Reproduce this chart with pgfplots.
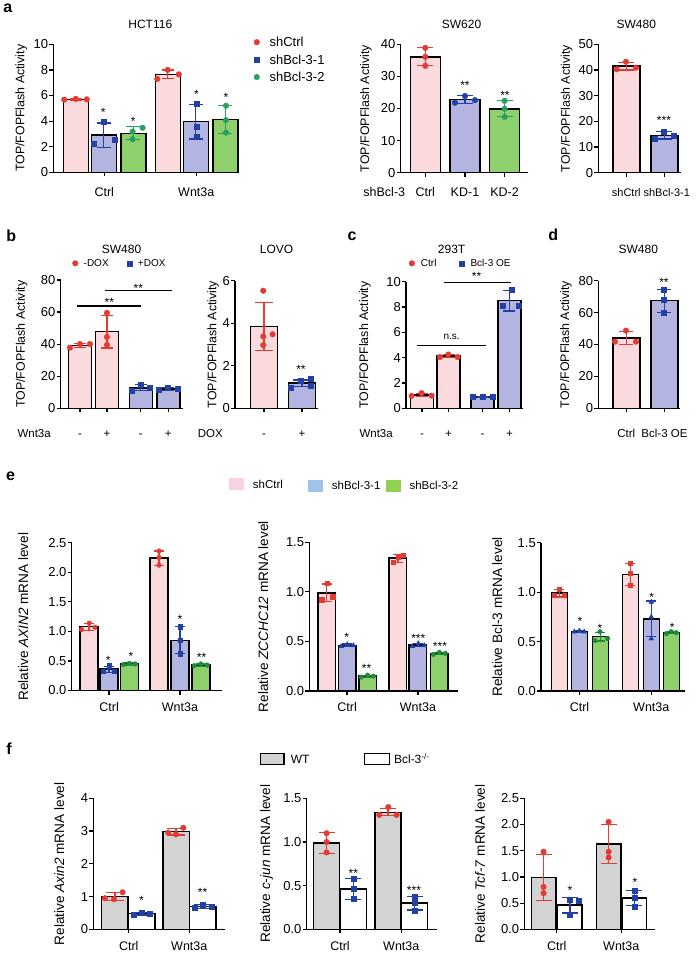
\documentclass[border=0pt]{standalone}
\usepackage{fontspec}
\setmainfont{Liberation Sans}
\usepackage{pgfplots}
\pgfplotsset{compat=1.18}
\newcommand\FS[1]{\fontsize{#1}{#1}\selectfont}
\definecolor{cpink}{RGB}{250,218,221}
\definecolor{clav}{RGB}{180,180,225}
\definecolor{cgreen}{RGB}{142,208,108}
\definecolor{cgrey}{RGB}{211,211,211}
\definecolor{cred}{RGB}{228,58,50}
\definecolor{cblue}{RGB}{35,65,165}
\definecolor{cgreenpt}{RGB}{40,160,100}
\definecolor{cgreendk}{RGB}{30,140,60}
\definecolor{lpink}{RGB}{248,210,226}
\definecolor{lblue}{RGB}{160,196,230}
\definecolor{lgreen}{RGB}{146,208,80}
\pgfplotsset{
 gp/.style={scale only axis, anchor=south west, axis lines=left, axis line style={-, line width=1.2pt},
   enlargelimits=false, clip=false, ymin=0, tick align=outside, major tick length=4pt,
   tick style={black, line width=1.2pt},
   yticklabel style={font=\FS{13}, inner sep=1pt},
   xticklabel style={font=\FS{12.5}, anchor=base},
   ylabel style={font=\FS{12.4}, anchor=center},
   legend style={draw=none, fill=none, inner sep=0pt, nodes={inner sep=0pt, text depth=0pt}, cells={anchor=west}},
   legend image code/.code={\draw[#1] plot coordinates {(0pt,0pt)};},
 },
 bp/.style={ybar, bar shift=0pt, draw=black, line width=1.5pt, forget plot},
 ebar/.style 2 args={error bars/.cd, y dir=both, y explicit, error bar style={draw=#1, line width=1.2pt}, error mark options={draw=#1, line width=1.2pt, mark size=#2, rotate=90}},
 pc/.style 2 args={only marks, mark=*, mark size=#2, color=#1, forget plot},
 ps/.style 2 args={only marks, mark=square*, mark size=#2, color=#1, forget plot},
 pt/.style 2 args={only marks, mark=triangle*, mark size=#2, color=#1, forget plot},
}
\begin{document}
\begin{tikzpicture}
% ---------------- a1 HCT116
\begin{axis}[gp, at={(50pt,-172.3pt)}, width=185pt, height=128pt,
 xmin=50, xmax=235, ymax=10, ytick={0,2,4,6,8,10}, yticklabels={0,2,4,6,8,10},
 xtick={101,193}, xticklabels={Ctrl,Wnt3a}, xticklabel style={yshift=-20pt},
 ylabel={TOP/FOPFlash Activity}, ylabel style={at={(axis cs:18,5)}},
 legend style={at={(axis cs:250.5,10.55)}, anchor=north west, font=\FS{13}, row sep=8pt, /tikz/every odd column/.style={column sep=10pt}}]
\addplot[bp, bar width=25, fill=cpink, ebar={cred}{6pt}] coordinates {(72.5,5.7) +- (0,0.05) (164.5,7.65) +- (0,0.35)};
\addplot[bp, bar width=25, fill=clav, ebar={cblue}{7pt}] coordinates {(100.5,2.9) +- (0,0.95) (192.5,3.95) +- (0,1.35)};
\addplot[bp, bar width=25, fill=cgreen, ebar={cgreenpt}{7pt}] coordinates {(130,3.05) +- (0,0.5) (222,4.13) +- (0,1.07)};
\addplot[pc={cred}{2.8pt}] coordinates {(61,5.68) (72.5,5.74) (83.5,5.7) (154,7.3) (164.5,8.0) (175.5,7.65)};
\addplot[ps={cblue}{2.5pt}] coordinates {(90,2.2) (100.5,3.95) (111,2.58) (193.3,5.35) (193.3,3.6) (193.3,2.75)};
\addplot[pc={cgreenpt}{2.8pt}] coordinates {(129.3,2.58) (129.3,3.18) (139.3,3.48) (222.7,5.2) (222.7,4.08) (222.7,3.1)};
\addlegendimage{only marks, mark=*, mark size=2.8pt, cred}\addlegendentry{shCtrl}
\addlegendimage{only marks, mark=square*, mark size=2.5pt, cblue}\addlegendentry{shBcl-3-1}
\addlegendimage{only marks, mark=*, mark size=2.8pt, cgreenpt}\addlegendentry{shBcl-3-2}
\end{axis}
% ---------------- a2 SW620
\begin{axis}[gp, at={(397.3pt,-172.7pt)}, width=127.7pt, height=128.4pt,
 xmin=397.3, xmax=525, ymax=40, ytick={0,10,20,30,40}, yticklabels={0,10,20,30,40},
 xtick={422,461.7,501.3}, xticklabels={Ctrl,KD-1,KD-2}, xticklabel style={yshift=-19.3pt},
 ylabel={TOP/FOPFlash Activity}, ylabel style={at={(axis cs:362.7,20)}}]
\addplot[bp, bar width=30, fill=cpink, ebar={cred}{8pt}] coordinates {(422,36.1) +- (0,2.8)};
\addplot[bp, bar width=30, fill=clav, ebar={cblue}{8pt}] coordinates {(461.7,22.8) +- (0,1.2)};
\addplot[bp, bar width=30, fill=cgreen, ebar={cgreenpt}{8pt}] coordinates {(501.3,19.9) +- (0,2.5)};
\addplot[pc={cred}{2.8pt}] coordinates {(422,38.9) (422,36.1) (422,33.3)};
\addplot[pc={cblue}{2.8pt}] coordinates {(451.7,21.8) (461.7,23.9) (471.7,22.6)};
\addplot[pc={cgreenpt}{2.8pt}] coordinates {(501.3,22.4) (501.3,19.9) (501.3,17.4)};
\end{axis}
% ---------------- a3 SW480
\begin{axis}[gp, at={(595pt,-172.7pt)}, width=83pt, height=128.4pt,
 xmin=595, xmax=678, ymax=50, ytick={0,10,20,30,40,50}, yticklabels={0,10,20,30,40,50},
 xtick={623,661}, xticklabels={shCtrl\hspace{9pt},\hspace{5pt}shBcl-3-1}, xticklabel style={yshift=-19.3pt, font=\FS{11}},
 ylabel={TOP/FOPFlash Activity}, ylabel style={at={(axis cs:563.3,25)}}]
\addplot[bp, bar width=27, fill=cpink, ebar={cred}{8pt}] coordinates {(623,41.5) +- (0,1.5)};
\addplot[bp, bar width=27, fill=clav, ebar={cblue}{8pt}] coordinates {(661,14.5) +- (0,1.4)};
\addplot[pc={cred}{2.8pt}] coordinates {(613.3,40.3) (622.7,43.2) (632.7,40.9)};
\addplot[ps={cblue}{2.5pt}] coordinates {(651.7,13.4) (660.7,15.8) (670.7,14.3)};
\end{axis}
% ---------------- b1 SW480
\begin{axis}[gp, at={(57.3pt,-408.3pt)}, width=122.7pt, height=128.3pt,
 xmin=57.3, xmax=180, ymax=80, ytick={0,20,40,60,80}, yticklabels={0,20,40,60,80},
 xtick={76.7,103.7,137.5,165}, xticklabels={-,+,-,+}, xticklabel style={yshift=-24.7pt, font=\FS{11.5}},
 ylabel={TOP/FOPFlash Activity}, ylabel style={at={(axis cs:18.3,40)}},
 legend columns=2,
 legend style={at={(axis cs:69,90.4)}, anchor=west, font=\FS{10}, /tikz/every odd column/.style={column sep=5.6pt}, /tikz/every even column/.style={column sep=18.7pt}}]
\addplot[bp, bar width=23, fill=cpink, ebar={cred}{6pt}] coordinates {(76.7,39.3) +- (0,1.3) (103.7,47.8) +- (0,10.2)};
\addplot[bp, bar width=23, fill=clav, ebar={cblue}{6pt}] coordinates {(137.5,12.8) +- (0,1.8) (165,12.0) +- (0,0.8)};
\addplot[pc={cred}{2.8pt}] coordinates {(66.7,37.8) (76.7,40.1) (86.7,40.1) (103.7,59.5) (103.7,44.5) (103.7,39.5)};
\addplot[ps={cblue}{2.5pt}] coordinates {(128.3,11.2) (137.3,14.6) (146.7,12.6) (155,11.5) (164,12.6) (174,12.0)};
\draw[line width=1.2pt] (axis cs:73.3,63.8) -- (axis cs:137.3,63.8);
\draw[line width=1.2pt] (axis cs:101.7,73.3) -- (axis cs:168.3,73.3);
\addlegendimage{only marks, mark=*, mark size=2.8pt, cred}\addlegendentry{-DOX}
\addlegendimage{only marks, mark=square*, mark size=2.5pt, cblue}\addlegendentry{+DOX}
\end{axis}
% ---------------- b2 LOVO
\begin{axis}[gp, at={(231.7pt,-408.3pt)}, width=83.3pt, height=127.6pt,
 xmin=231.7, xmax=315, ymax=6, ytick={0,2,4,6}, yticklabels={0,2,4,6},
 xtick={260.7,298.8}, xticklabels={-,+}, xticklabel style={yshift=-24.7pt, font=\FS{11.5}},
 ylabel={TOP/FOPFlash Activity}, ylabel style={at={(axis cs:210,3)}}]
\addplot[bp, bar width=27, fill=cpink, ebar={cred}{9pt}] coordinates {(260.7,3.84) +- (0,1.13)};
\addplot[bp, bar width=27, fill=clav, ebar={cblue}{9pt}] coordinates {(298.8,1.18) +- (0,0.15)};
\addplot[pc={cred}{2.8pt}] coordinates {(260,5.53) (260,3.38) (269.3,3.48) (260,2.97)};
\addplot[ps={cblue}{2.5pt}] coordinates {(287.3,0.99) (297.7,1.28) (307.3,1.41) (307.3,1.05)};
\end{axis}
% ---------------- c 293T
\begin{axis}[gp, at={(402.7pt,-408.3pt)}, width=117.3pt, height=126.6pt,
 xmin=402.7, xmax=520, ymax=10, ytick={0,2,4,6,8,10}, yticklabels={0,2,4,6,8,10},
 xtick={418.7,445.3,479.3,506.2}, xticklabels={-,+,-,+}, xticklabel style={yshift=-24.7pt, font=\FS{11.5}},
 ylabel={TOP/FOPFlash Activity}, ylabel style={at={(axis cs:361.7,5)}},
 legend columns=2,
 legend style={at={(axis cs:405.6,11.45)}, anchor=west, font=\FS{10}, /tikz/every odd column/.style={column sep=6.3pt}, /tikz/every even column/.style={column sep=22.7pt}}]
\addplot[bp, bar width=23, fill=cpink, ebar={cred}{6pt}] coordinates {(418.7,1.06) +- (0,0.1) (445.3,4.12) +- (0,0.12)};
\addplot[bp, bar width=23, fill=clav, ebar={cblue}{6pt}] coordinates {(479.3,0.9) +- (0,0.05) (506.2,8.5) +- (0,0.82)};
\addplot[pc={cred}{2.8pt}] coordinates {(408.3,0.98) (418.3,1.2) (428.3,1.0) (436.7,4.05) (445,4.25) (454.3,4.05)};
\addplot[ps={cblue}{2.5pt}] coordinates {(469.3,0.88) (479.3,0.93) (489.3,0.88) (508.3,9.34) (499.3,8.08) (515,8.08)};
\draw[line width=1.2pt] (axis cs:414,4.95) -- (axis cs:482.7,4.95);
\draw[line width=1.2pt] (axis cs:440.7,9.92) -- (axis cs:507.7,9.92);
\addlegendimage{only marks, mark=*, mark size=2.8pt, cred}\addlegendentry{Ctrl}
\addlegendimage{only marks, mark=square*, mark size=2.5pt, cblue}\addlegendentry{Bcl-3 OE}
\end{axis}
% ---------------- d SW480
\begin{axis}[gp, at={(595pt,-408.3pt)}, width=82pt, height=127.6pt,
 xmin=595, xmax=677, ymax=80, ytick={0,20,40,60,80}, yticklabels={0,20,40,60,80},
 xtick={623,661.2}, xticklabels={Ctrl,Bcl-3 OE}, xticklabel style={yshift=-24.7pt, font=\FS{11.5}},
 ylabel={TOP/FOPFlash Activity}, ylabel style={at={(axis cs:562.7,40)}}]
\addplot[bp, bar width=27, fill=cpink, ebar={cred}{7pt}] coordinates {(623,44.1) +- (0,4.3)};
\addplot[bp, bar width=27, fill=clav, ebar={cblue}{7pt}] coordinates {(661.2,67.5) +- (0,7.2)};
\addplot[pc={cred}{2.8pt}] coordinates {(611.7,41.8) (622.7,48.7) (632.7,41.8)};
\addplot[ps={cblue}{2.5pt}] coordinates {(660.7,74.6) (660.7,67.9) (660.7,60)};
\end{axis}
% ---------------- e1 AXIN2
\begin{axis}[gp, at={(68.3pt,-690.5pt)}, width=150pt, height=147.8pt,
 xmin=68.3, xmax=218.3, ymax=2.5, ytick={0,0.5,1,1.5,2,2.5}, yticklabels={0.0,0.5,1.0,1.5,2.0,2.5},
 xtick={105.8,176.7}, xticklabels={Ctrl,Wnt3a}, xticklabel style={yshift=-16.5pt},
 ylabel={Relative \textit{AXIN2} mRNA level}, ylabel style={at={(axis cs:20,1.25)}, font=\FS{13.6}},
 legend style={at={(axis cs:226,3.49)}, anchor=west, font=\FS{11.5}, /tikz/every odd column/.style={column sep=9pt}}]
\addplot[bp, bar width=18, fill=cpink, ebar={cred}{5pt}] coordinates {(85.8,1.08) +- (0,0.06) (155.8,2.24) +- (0,0.12)};
\addplot[bp, bar width=18, fill=clav, ebar={cblue}{5pt}] coordinates {(105.8,0.36) +- (0,0.05) (176.7,0.85) +- (0,0.23)};
\addplot[bp, bar width=18, fill=cgreen, ebar={cgreendk}{5pt}] coordinates {(126.2,0.45) +- (0,0.02) (197.5,0.43) +- (0,0.02)};
\addplot[pc={cred}{2.3pt}] coordinates {(78.3,1.03) (86,1.14) (91.7,1.07) (155.8,2.36) (155.8,2.25) (155.8,2.12)};
\addplot[ps={cblue}{2.2pt}] coordinates {(100,0.33) (105.8,0.42) (111,0.33) (176.7,1.08) (176.7,0.85) (176.7,0.62)};
\addplot[pc={cgreendk}{2.3pt}] coordinates {(120,0.44) (126,0.46) (132,0.45) (191,0.42) (197.5,0.45) (204,0.43)};
\addlegendimage{legend image code/.code={\fill[lpink] (0pt,-5.5pt) rectangle (14pt,5.5pt);}}\addlegendentry{shCtrl}
\end{axis}
% ---------------- e2 ZCCHC12
\begin{axis}[gp, at={(306pt,-691pt)}, width=149pt, height=148.7pt,
 xmin=306, xmax=455, ymax=1.5, ytick={0,0.5,1,1.5}, yticklabels={0.0,0.5,1.0,1.5},
 xtick={343.8,414.7}, xticklabels={Ctrl,Wnt3a}, xticklabel style={yshift=-16pt},
 ylabel={Relative \textit{ZCCHC12} mRNA level}, ylabel style={at={(axis cs:260,0.75)}, font=\FS{13.6}},
 legend style={at={(axis cs:305,2.07)}, anchor=west, font=\FS{11.5}, /tikz/every odd column/.style={column sep=9pt}}]
\addplot[bp, bar width=17.5, fill=cpink, ebar={cred}{5pt}] coordinates {(323.3,0.99) +- (0,0.09) (394.7,1.34) +- (0,0.04)};
\addplot[bp, bar width=17.5, fill=clav, ebar={cblue}{5pt}] coordinates {(343.8,0.46) +- (0,0.015) (414.7,0.466) +- (0,0.015)};
\addplot[bp, bar width=17.5, fill=cgreen, ebar={cgreendk}{5pt}] coordinates {(364.3,0.15) +- (0,0.01) (435.8,0.38) +- (0,0.01)};
\addplot[ps={cred}{2.2pt}] coordinates {(318.3,0.92) (324,1.09) (329.3,0.95) (390,1.30) (395,1.35) (400,1.37)};
\addplot[pt={cblue}{2.8pt}] coordinates {(338,0.45) (344,0.47) (350,0.46) (409,0.45) (415,0.48) (421,0.46)};
\addplot[pc={cgreendk}{2.3pt}] coordinates {(358,0.14) (364.3,0.16) (370,0.15) (430,0.37) (436,0.39) (442,0.38)};
\addlegendimage{legend image code/.code={\fill[lblue] (0pt,-5.5pt) rectangle (14pt,5.5pt);}}\addlegendentry{shBcl-3-1}
\end{axis}
% ---------------- e3 Bcl-3
\begin{axis}[gp, at={(537.7pt,-691pt)}, width=144.3pt, height=148.3pt,
 xmin=537.7, xmax=682, ymax=1.5, ytick={0,0.5,1,1.5}, yticklabels={0.0,0.5,1.0,1.5},
 xtick={576.2,648}, xticklabels={Ctrl,Wnt3a}, xticklabel style={yshift=-16pt},
 ylabel={Relative Bcl-3 mRNA level}, ylabel style={at={(axis cs:494,0.75)}, font=\FS{13.6}},
 legend style={at={(axis cs:382.7,2.077)}, anchor=west, font=\FS{11.5}, /tikz/every odd column/.style={column sep=9pt}}]
\addplot[bp, bar width=16, fill=cpink, ebar={cred}{5pt}] coordinates {(556.2,0.99) +- (0,0.04) (627,1.18) +- (0,0.11)};
\addplot[bp, bar width=16, fill=clav, ebar={cblue}{5pt}] coordinates {(576.2,0.6) +- (0,0.01) (648,0.73) +- (0,0.18)};
\addplot[bp, bar width=16, fill=cgreen, ebar={cgreendk}{5pt}] coordinates {(597,0.55) +- (0,0.045) (668.3,0.59) +- (0,0.01)};
\addplot[ps={cred}{2.2pt}] coordinates {(551,0.97) (556.2,1.03) (561,0.97) (627,1.29) (627,1.19) (627,1.07)};
\addplot[pt={cblue}{2.8pt}] coordinates {(571,0.6) (576,0.61) (581,0.6) (648,0.9) (648,0.75) (648,0.53)};
\addplot[pc={cgreendk}{2.3pt}] coordinates {(591.7,0.51) (596.7,0.6) (604.3,0.53) (663,0.58) (668,0.6) (673,0.59)};
\addlegendimage{legend image code/.code={\fill[lgreen] (0pt,-5.5pt) rectangle (14pt,5.5pt);}}\addlegendentry{shBcl-3-2}
\end{axis}
% ---------------- f1 Axin2
\begin{axis}[gp, at={(90pt,-929.3pt)}, width=131.7pt, height=131pt,
 xmin=90, xmax=221.7, ymax=4, ytick={0,1,2,3,4}, yticklabels={0,1,2,3,4},
 xtick={125.5,186}, xticklabels={Ctrl,Wnt3a}, xticklabel style={yshift=-17pt},
 ylabel={Relative \textit{Axin2} mRNA level}, ylabel style={at={(axis cs:56,2)}, font=\FS{13.6}},
 legend style={at={(axis cs:256.7,5.2)}, anchor=west, font=\FS{12}, /tikz/every odd column/.style={column sep=6pt}}]
\addplot[bp, bar width=26.5, fill=cgrey, ebar={cred}{9pt}] coordinates {(111.7,1.0) +- (0,0.12) (172.8,2.98) +- (0,0.1)};
\addplot[bp, bar width=26.5, fill=white, ebar={cblue}{9pt}] coordinates {(138.3,0.48) +- (0,0.04) (199.5,0.7) +- (0,0.06)};
\addplot[pc={cred}{2.8pt}] coordinates {(101.7,0.95) (110.7,0.92) (119.3,1.13) (165,2.95) (172.7,2.9) (180,3.1)};
\addplot[ps={cblue}{2.5pt}] coordinates {(130,0.45) (138.3,0.52) (146.7,0.47) (191,0.66) (199.5,0.75) (208,0.7)};
\addlegendimage{legend image code/.code={\draw[fill=cgrey, line width=1.3pt] (0pt,-5.5pt) rectangle (23.3pt,5.5pt);}}\addlegendentry{WT}
\end{axis}
% ---------------- f2 c-jun
\begin{axis}[gp, at={(303.3pt,-929.3pt)}, width=130pt, height=131pt,
 xmin=303.3, xmax=433.3, ymax=1.5, ytick={0,0.5,1,1.5}, yticklabels={0.0,0.5,1.0,1.5},
 xtick={336.7,398}, xticklabels={Ctrl,Wnt3a}, xticklabel style={yshift=-17pt},
 ylabel={Relative \textit{c-jun} mRNA level}, ylabel style={at={(axis cs:263.3,0.75)}, font=\FS{13.6}},
 legend style={at={(axis cs:360.7,1.953)}, anchor=west, font=\FS{12}, /tikz/every odd column/.style={column sep=3.6pt}}]
\addplot[bp, bar width=26, fill=cgrey, ebar={cred}{8pt}] coordinates {(323.3,0.99) +- (0,0.12) (384.8,1.34) +- (0,0.04)};
\addplot[bp, bar width=26, fill=white, ebar={cblue}{8pt}] coordinates {(350,0.46) +- (0,0.12) (411.3,0.30) +- (0,0.08)};
\addplot[pc={cred}{2.8pt}] coordinates {(323.3,1.1) (323.3,1.0) (323.3,0.88) (376,1.31) (385,1.40) (393.3,1.31)};
\addplot[ps={cblue}{2.5pt}] coordinates {(350,0.58) (350,0.46) (350,0.35) (411.3,0.37) (411.3,0.31) (411.3,0.21)};
\addlegendimage{legend image code/.code={\draw[fill=white, line width=1.3pt] (0pt,-5.5pt) rectangle (25pt,5.5pt);}}\addlegendentry{Bcl-3\textsuperscript{-/-}}
\end{axis}
% ---------------- f3 Tcf-7
\begin{axis}[gp, at={(521pt,-929.3pt)}, width=130.7pt, height=131pt,
 xmin=521, xmax=651.7, ymax=2.5, ytick={0,0.5,1,1.5,2,2.5}, yticklabels={0.0,0.5,1.0,1.5,2.0,2.5},
 xtick={553.5,618}, xticklabels={Ctrl,Wnt3a}, xticklabel style={yshift=-17pt},
 ylabel={Relative \textit{Tcf-7} mRNA level}, ylabel style={at={(axis cs:476.7,1.25)}, font=\FS{13.6}}]
\addplot[bp, bar width=24.5, fill=cgrey, ebar={cred}{8pt}] coordinates {(540.3,0.99) +- (0,0.44) (605.3,1.63) +- (0,0.37)};
\addplot[bp, bar width=24.5, fill=white, ebar={cblue}{8pt}] coordinates {(566.7,0.46) +- (0,0.15) (631.2,0.6) +- (0,0.14)};
\addplot[pc={cred}{2.8pt}] coordinates {(540.3,1.48) (540.3,0.81) (540.3,0.69) (605.3,2.05) (605.3,1.48) (605.3,1.37)};
\addplot[ps={cblue}{2.5pt}] coordinates {(566.7,0.57) (575,0.55) (566.7,0.27) (631.7,0.74) (631.7,0.61) (631.7,0.44)};
\end{axis}
% ---------------- annotations (pixel coordinates)
\begin{scope}[x=1pt,y=-1pt]
\path (0,0) rectangle (692,956);
\tikzset{lt/.style={font=\FS{16}\bfseries}, tt/.style={font=\FS{12}}, st/.style={font=\FS{12}, yshift=-2.5pt}}
\node[lt] at (4.5,8.5) {a};
\node[lt] at (8,236) {b};
\node[lt] at (348.8,236.7) {c};
\node[lt] at (550,235) {d};
\node[lt] at (7.2,475.8) {e};
\node[lt] at (5.8,749) {f};
\node[tt] at (147,24) {HCT116};
\node[tt] at (458.3,24) {SW620};
\node[tt] at (633,24) {SW480};
\node[tt] at (118.3,249.3) {SW480};
\node[tt] at (273.3,249.3) {LOVO};
\node[tt] at (448.3,249.3) {293T};
\node[tt] at (635,249.3) {SW480};
\node[font=\FS{12.5}, anchor=base] at (381,196) {shBcl-3};
\node[font=\FS{11.5}, anchor=base east] at (51,437) {Wnt3a};
\node[font=\FS{11.5}, anchor=base east] at (223,437) {DOX};
\node[font=\FS{11.5}, anchor=base east] at (393,437) {Wnt3a};
% stars
\node[st] at (100,110) {*};
\node[st] at (130,119.3) {*};
\node[st] at (193.3,91.7) {*};
\node[st] at (222.7,95) {*};
\node[st] at (461.7,82.7) {**};
\node[st] at (501.7,92.7) {**};
\node[st] at (660.7,118.3) {***};
\node[st] at (106,300) {**};
\node[st] at (135,286) {**};
\node[st] at (297.7,366.7) {**};
\node[font=\FS{10}] at (448.3,337.3) {n.s.};
\node[st] at (473.3,274) {**};
\node[st] at (660.7,280) {**};
\node[st] at (105,658.3) {*};
\node[st] at (127.7,654) {*};
\node[st] at (176.7,616.7) {*};
\node[st] at (198.3,655) {**};
\node[st] at (343.3,635) {*};
\node[st] at (363.3,665.7) {**};
\node[st] at (415,635.7) {***};
\node[st] at (436.7,644) {***};
\node[st] at (576.7,619.3) {*};
\node[st] at (596.7,626) {*};
\node[st] at (648.3,595) {*};
\node[st] at (669,625) {*};
\node[st] at (138.3,898.3) {*};
\node[st] at (199.3,890) {**};
\node[st] at (350,870.7) {**};
\node[st] at (410.7,888.3) {***};
\node[st] at (566.7,887.7) {*};
\node[st] at (631.7,880) {*};
\end{scope}
\end{tikzpicture}
\end{document}
